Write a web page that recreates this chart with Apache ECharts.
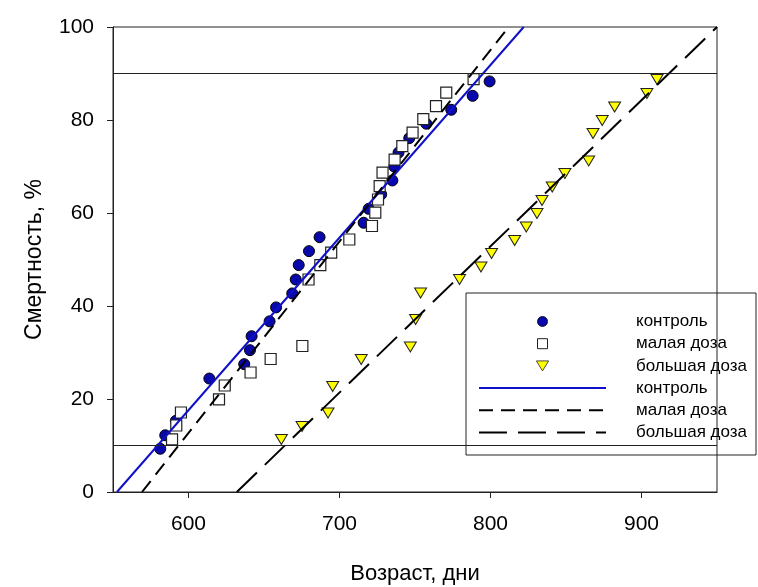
<!DOCTYPE html>
<html>
<head>
<meta charset="utf-8">
<script src="https://cdn.jsdelivr.net/npm/echarts@6/dist/echarts.min.js"></script>
<style>html,body{margin:0;padding:0;background:#fff}#c{width:758px;height:587px}</style>
</head>
<body>
<div id="c"></div>
<script>
// ---- data ----
var xTicks = [600, 700, 800, 900];
var yTicks = [0, 20, 40, 60, 80, 100];
var refLines = [10, 90];

var controlDays = [581.3, 584.6, 591.6, 613.8, 636.9, 640.7, 641.8, 653.7, 658, 668.7, 671, 673, 679.8, 686.8, 716, 719.3, 727.6, 735, 736.3, 739.1, 746.2, 757.5, 774, 788.2, 799.4];
var controlPct  = [9.3, 12.2, 15.3, 24.4, 27.5, 30.5, 33.5, 36.7, 39.7, 42.7, 45.7, 48.8, 51.8, 54.8, 57.9, 60.9, 64.0, 67.0, 70.0, 73.0, 76.1, 79.2, 82.2, 85.2, 88.3];

var smallDays = [589.1, 591.9, 595, 620.2, 624, 641.1, 654.4, 675.4, 679.5, 687.3, 694.5, 706.5, 721.5, 723.7, 725.5, 726.6, 728.5, 736.5, 741.6, 748.4, 755.5, 763.9, 770.7, 788.8];
var smallPct  = [11.3, 14.3, 17.1, 19.9, 22.9, 25.7, 28.6, 31.4, 45.7, 48.8, 51.5, 54.3, 57.2, 60.1, 62.9, 65.8, 68.7, 71.5, 74.4, 77.3, 80.2, 83.0, 85.9, 88.8];

var largeDays = [661.5, 675.2, 692.4, 695.5, 714.4, 746.9, 750.4, 753.7, 779.5, 793.7, 800.7, 816, 823.7, 830.8, 834.1, 840.9, 849.3, 865, 867.9, 874, 882.2, 903.6, 910.3];
var largePct  = [11.3, 14.1, 17.0, 22.7, 28.5, 31.2, 37.1, 42.8, 45.7, 48.4, 51.3, 54.1, 57.0, 59.9, 62.7, 65.6, 68.5, 71.2, 77.1, 79.9, 82.8, 85.7, 88.7];

var fitPct = [0, 100];
var controlFitDays = [552.6, 822];
var smallFitDays = [569.2, 812];
var largeFitDays = [632, 950];

var names = ['контроль', 'малая доза', 'большая доза'];
var ZW = '\u200b';

function pairs(xs, ys) { return xs.map(function (x, i) { return [x, ys[i]]; }); }

var chart = echarts.init(document.getElementById('c'));
var font = 'Liberation Sans, Arial, sans-serif';
var hideSym = { opacity: 0 };

chart.setOption({
  animation: false,
  textStyle: { fontFamily: font },
  grid: { left: 113, right: 41, top: 27, bottom: 95, outerBoundsMode: 'none', containLabel: false,
          show: true, borderColor: '#222', borderWidth: 1, backgroundColor: 'transparent' },
  xAxis: {
    type: 'value', min: 550, max: 950,
    axisLine: { lineStyle: { color: '#222', width: 1 } },
    axisTick: { customValues: xTicks, length: 6, lineStyle: { color: '#222' } },
    axisLabel: { customValues: xTicks, fontSize: 21, color: '#000', margin: 22, fontFamily: font },
    splitLine: { show: false },
    name: 'Возраст, дни', nameLocation: 'middle', nameGap: 71,
    nameTextStyle: { fontSize: 22, color: '#000', fontFamily: font }
  },
  yAxis: {
    type: 'value', min: 0, max: 100, interval: 20,
    axisLine: { show: true, lineStyle: { color: '#222', width: 1 } },
    axisTick: { show: true, length: 6, lineStyle: { color: '#222' } },
    axisLabel: { fontSize: 21, color: '#000', margin: 19, fontFamily: font },
    splitLine: { show: false },
    name: 'Смертность, %', nameLocation: 'middle', nameGap: 67, nameRotate: 90,
    nameTextStyle: { fontSize: 23, color: '#000', fontFamily: font }
  },
  legend: {
    orient: 'vertical', left: 473, top: 308,
    itemWidth: 127, itemHeight: 10, itemGap: 5.2,
    formatter: function (n) { return n.replace(ZW, ''); },
    textStyle: { fontSize: 17, lineHeight: 17, color: '#000', fontFamily: font, padding: [0, 0, 0, 25] },
    data: [
      { name: names[0], icon: 'circle', itemStyle: { borderWidth: 0.8 } },
      { name: names[1], icon: 'path://M0,0L9,0L9,9L0,9Z', itemStyle: { borderWidth: 1 } },
      { name: names[2], icon: 'path://M0,0L11,0L5.5,9Z', itemStyle: { borderWidth: 0.8 } },
      { name: names[0] + ZW, itemStyle: hideSym },
      { name: names[1] + ZW, itemStyle: hideSym },
      { name: names[2] + ZW, itemStyle: hideSym }
    ]
  },
  graphic: [{
    type: 'rect', z: 3, shape: { x: 466, y: 293, width: 290, height: 162 },
    style: { fill: 'rgba(0,0,0,0)', stroke: '#222', lineWidth: 1 }
  }],
  series: [
    {
      name: names[0], type: 'scatter', data: pairs(controlDays, controlPct), z: 2,
      symbol: 'circle', symbolSize: 11,
      itemStyle: { color: '#0808ac', borderColor: '#000', borderWidth: 1, opacity: 1 },
      markLine: {
        silent: true, symbol: 'none', label: { show: false },
        lineStyle: { color: '#222', width: 1, type: 'solid' },
        data: refLines.map(function (v) { return { yAxis: v }; })
      }
    },
    {
      name: names[1], type: 'scatter', data: pairs(smallDays, smallPct), z: 3,
      symbol: 'rect', symbolSize: 11,
      itemStyle: { color: '#fff', borderColor: '#222', borderWidth: 1.2, opacity: 1 }
    },
    {
      name: names[2], type: 'scatter', data: pairs(largeDays, largePct), z: 3,
      symbol: 'triangle', symbolRotate: 180, symbolSize: [12, 10],
      itemStyle: { color: '#ffff00', borderColor: '#222', borderWidth: 1, opacity: 1 }
    },
    {
      name: names[0] + ZW, type: 'line', data: pairs(controlFitDays, fitPct), z: 4,
      symbol: 'none', showSymbol: false,
      itemStyle: { color: '#1010c8' },
      lineStyle: { color: '#1010c8', width: 2, type: 'solid' }
    },
    {
      name: names[1] + ZW, type: 'line', data: pairs(smallFitDays, fitPct), z: 4,
      symbol: 'none', showSymbol: false,
      itemStyle: { color: '#000' },
      lineStyle: { color: '#000', width: 2, type: [14, 8] }
    },
    {
      name: names[2] + ZW, type: 'line', data: pairs(largeFitDays, fitPct), z: 4,
      symbol: 'none', showSymbol: false,
      itemStyle: { color: '#000' },
      lineStyle: { color: '#000', width: 2, type: [28, 11] }
    }
  ]
});
</script>
</body>
</html>
